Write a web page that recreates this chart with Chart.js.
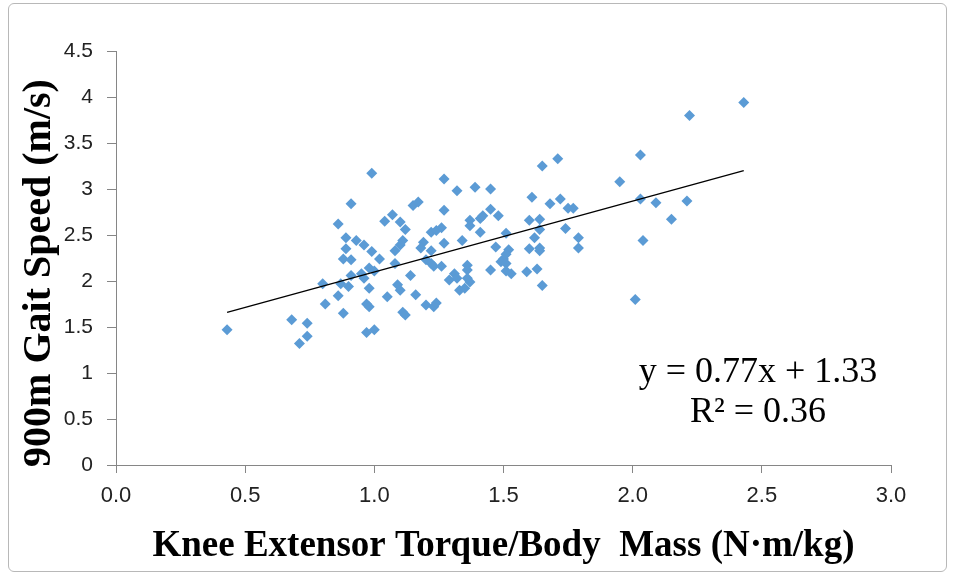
<!DOCTYPE html>
<html>
<head>
<meta charset="utf-8">
<script src="https://cdn.jsdelivr.net/npm/chart.js@4/dist/chart.umd.min.js"></script>
<style>
  html, body { margin: 0; padding: 0; background: #fff; }
  #wrap { position: relative; width: 955px; height: 578px; }
  #frame { position: absolute; left: 8px; top: 3px; width: 937px; height: 567px;
           border: 1px solid #b8b8b8; border-radius: 6px; pointer-events: none; }
</style>
</head>
<body>
<div id="wrap">
  <canvas id="myChart" width="955" height="578"></canvas>
  <div id="frame"></div>
</div>
<script>
// Données
const torque = [0.43, 0.68, 0.71, 0.74, 0.74, 0.80, 0.81, 0.86, 0.86, 0.88, 0.88, 0.89, 0.89, 0.91, 0.87, 0.90, 0.91, 0.93, 0.91, 0.95,
  0.96, 0.96, 0.99, 0.99, 0.98, 1.00, 0.98, 0.97, 0.98, 0.97, 1.00, 1.02, 1.04, 1.07, 1.10, 1.12, 1.05, 1.08, 1.10, 1.11,
  1.08, 1.09, 1.10, 1.11, 1.12, 1.14, 1.15, 1.17, 1.16, 1.20, 1.23, 1.24, 1.19, 1.18, 1.22, 1.20, 1.22, 1.23, 1.26, 1.22,
  1.24, 1.26, 1.27, 1.27, 1.27, 1.32, 1.31, 1.29, 1.32, 1.34, 1.36, 1.36, 1.36, 1.37, 1.33, 1.35, 1.37, 1.41, 1.42, 1.37,
  1.41, 1.39, 1.45, 1.45, 1.48, 1.47, 1.45, 1.51, 1.52, 1.51, 1.50, 1.49, 1.51, 1.51, 1.53, 1.60, 1.64, 1.61, 1.64, 1.62,
  1.60, 1.64, 1.64, 1.59, 1.63, 1.65, 1.65, 1.71, 1.68, 1.72, 1.75, 1.77, 1.74, 1.79, 1.79, 1.95, 2.01, 2.03, 2.03, 2.04,
  2.09, 2.15, 2.21, 2.22, 2.43];
const gaitSpeed = [1.47, 1.58, 1.32, 1.54, 1.40, 1.97, 1.75, 2.62, 1.84, 2.24, 1.65, 2.47, 2.35, 2.84, 1.97, 1.94, 2.23, 2.44, 2.06, 2.08,
  2.03, 2.39, 2.32, 3.17, 2.14, 2.11, 1.92, 1.75, 1.72, 1.44, 1.47, 2.24, 2.65, 2.72, 2.64, 2.56, 1.83, 2.33, 2.39, 2.44,
  2.19, 1.96, 1.90, 1.66, 1.63, 2.06, 2.82, 2.86, 1.85, 1.74, 1.72, 1.76, 2.42, 2.36, 2.33, 2.23, 2.19, 2.16, 2.16, 2.53,
  2.55, 2.58, 2.41, 2.77, 3.11, 2.98, 2.08, 2.01, 2.03, 2.44, 2.17, 2.12, 2.03, 1.99, 1.90, 1.92, 2.66, 2.68, 2.71, 2.60,
  2.53, 3.02, 3.00, 2.78, 2.71, 2.37, 2.12, 2.52, 2.34, 2.29, 2.24, 2.21, 2.19, 2.11, 2.08, 2.66, 2.67, 2.91, 2.56, 2.47,
  2.35, 2.36, 2.33, 2.10, 2.13, 1.95, 3.25, 3.33, 2.84, 2.89, 2.79, 2.79, 2.57, 2.47, 2.36, 3.08, 1.80, 3.37, 2.89, 2.44,
  2.85, 2.67, 2.87, 3.80, 3.94];

// Extrémités de la droite de tendance
const trendX = [0.43, 2.43];
const trendY = [1.66, 3.20];

const xTicks = [0, 0.5, 1, 1.5, 2, 2.5, 3];
const yTicks = [0, 0.5, 1, 1.5, 2, 2.5, 3, 3.5, 4, 4.5];

const equationLines = ["y = 0.77x + 1.33", "R² = 0.36"];
const yTitle = "900m Gait Speed (m/s)";
const xTitle = "Knee Extensor Torque/Body  Mass (N·m/kg)";

const axisColor = "#868686";

// Plugin pour l'équation et le titre vertical
const textPlugin = {
  id: "textPlugin",
  afterDraw(chart) {
    const ctx = chart.ctx;
    ctx.save();
    ctx.fillStyle = "#000";
    ctx.textAlign = "center";
    ctx.textBaseline = "alphabetic";
    ctx.font = "36px 'Liberation Serif'";
    ctx.fillText(equationLines[0], 758, 382);
    ctx.fillText(equationLines[1], 758, 422);

    ctx.translate(40, 273);
    ctx.rotate(-Math.PI / 2);
    ctx.textBaseline = "middle";
    ctx.font = "bold 40px 'Liberation Serif'";
    ctx.fillText(yTitle, 0, 0);
    ctx.restore();
  },
};

const ctx = document.getElementById("myChart").getContext("2d");
const chart = new Chart(ctx, {
  type: "scatter",
  data: {
    datasets: [
      {
        label: "Données",
        data: torque.map((x, i) => ({ x: x, y: gaitSpeed[i] })),
        backgroundColor: "#5B9BD5",
        pointStyle: "rectRot",
        pointRadius: 5.5,
        borderWidth: 0,
        order: 2,
      },
      {
        type: "line",
        label: "Tendance",
        data: trendX.map((x, i) => ({ x: x, y: trendY[i] })),
        borderColor: "#000",
        borderWidth: 1.3,
        pointRadius: 0,
        fill: false,
        order: 1,
      },
    ],
  },
  options: {
    responsive: false,
    animation: false,
    layout: { padding: { left: 0, right: 64, top: 51, bottom: 0 } },
    plugins: { legend: { display: false }, tooltip: { enabled: false } },
    scales: {
      x: {
        type: "linear",
        min: 0,
        max: 3,
        afterBuildTicks: (s) => { s.ticks = xTicks.map((v) => ({ value: v })); },
        afterFit: (s) => { s.height = 113; },
        grid: { drawOnChartArea: false, drawTicks: true, tickLength: 8, color: axisColor },
        border: { color: axisColor, width: 1 },
        ticks: {
          color: "#222",
          padding: 10,
          maxRotation: 0,
          font: { family: "'Liberation Sans Narrow', 'Liberation Sans'", size: 22 },
          callback: (v) => v.toFixed(1),
        },
        title: {
          display: true,
          text: xTitle,
          color: "#000",
          font: { family: "'Liberation Serif'", size: 37, weight: "bold" },
          padding: { top: 0, bottom: 9 },
        },
      },
      y: {
        type: "linear",
        min: 0,
        max: 4.5,
        afterBuildTicks: (s) => { s.ticks = yTicks.map((v) => ({ value: v })); },
        afterFit: (s) => { s.width = 116; },
        grid: { drawOnChartArea: false, drawTicks: true, tickLength: 9, color: axisColor },
        border: { color: axisColor, width: 1 },
        ticks: {
          color: "#222",
          padding: 14,
          font: { family: "'Liberation Sans'", size: 21 },
          callback: (v) => String(v),
        },
      },
    },
  },
  plugins: [textPlugin],
});
</script>
</body>
</html>
